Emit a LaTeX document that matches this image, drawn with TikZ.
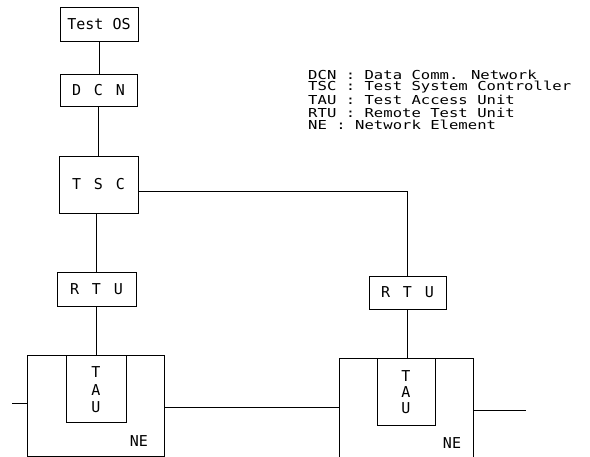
\documentclass[tikz,border=0pt]{standalone}
\usepackage{fontspec}
\newfontfamily\monofam{DejaVu Sans Mono}
\newcommand\lgap{\hspace{0.85em}}
\tikzset{
  box/.style={draw, line width=0.8pt, inner sep=0pt, font={\monofam\fontsize{15}{17}\selectfont}},
  lbl/.style={inner sep=0pt, font={\monofam\fontsize{15}{17}\selectfont}},
  legtext/.style={inner sep=0pt, anchor=west, xscale=1.2, yscale=0.95, font={\monofam\fontsize{13}{12}\selectfont}},
  conn/.style={line width=0.8pt}
}
\begin{document}
\begin{tikzpicture}[x=1pt,y=-1pt]
\clip (0,0) rectangle (590,457);
\useasboundingbox (0,0) rectangle (590,457);
% boxes
\node[box, minimum width=78pt, minimum height=34pt] (testos) at (99,24) {Test OS};
\node[box, minimum width=77pt, minimum height=32pt] (dcn) at (98.5,90) {D\lgap C\lgap N};
\node[box, minimum width=79pt, minimum height=57pt] (tsc) at (98.5,184.5) {\raisebox{-6pt}{T\lgap S\lgap C}};
\node[box, minimum width=79pt, minimum height=34pt] (rtua) at (96.5,289) {R\lgap T\lgap U};
\node[box, minimum width=137pt, minimum height=101pt] (nea) at (95.5,405.5) {};
\node[box, minimum width=60pt, minimum height=67pt] (taua) at (96,388.5) {};
\node[box, minimum width=77pt, minimum height=33pt] (rtub) at (407.5,292.5) {R\lgap T\lgap U};
\node[box, minimum width=134pt, minimum height=104pt] (neb) at (406,410) {};
\node[box, minimum width=58pt, minimum height=67pt] (taub) at (406,391.5) {};
% inner labels
\node[lbl, align=center, font={\monofam\fontsize{15}{17.5}\selectfont}] (tauatext) at (96,390) {T\\A\\U};
\node[lbl, align=center, font={\monofam\fontsize{15}{16}\selectfont}] (taubtext) at (406,392) {T\\A\\U};
\node[lbl] (neatext) at (139,441) {NE};
\node[lbl] (nebtext) at (452,443) {NE};
% connectors
\draw[conn] (testos.south) -- (testos.south |- dcn.north);
\draw[conn] (dcn.south) -- (dcn.south |- tsc.north);
\draw[conn] (rtua.north) -- (rtua.north |- tsc.south);
\draw[conn] (rtua.south) -- (rtua.south |- taua.north);
\draw[conn] ([yshift=-6.5pt]tsc.east) -| (rtub.north);
\draw[conn] (rtub.south) -- (rtub.south |- taub.north);
\coordinate (lstub) at (12,403);
\coordinate (rstub) at (526,410);
\draw[conn] (lstub) -- (lstub -| nea.west);
\draw[conn] ([yshift=-1.5pt]nea.east) -- ([yshift=-1.5pt]nea.east -| neb.west);
\draw[conn] (rstub -| neb.east) -- (rstub);
% legend
\node[legtext] (leg1) at (308,75) {DCN : Data Comm. Network};
\node[legtext] (leg2) at (308,87.5) {TSC : Test System Controller};
\node[legtext] (leg3) at (308,100) {TAU : Test Access Unit};
\node[legtext] (leg4) at (308,112.5) {RTU : Remote Test Unit};
\node[legtext] (leg5) at (308,124.5) {NE : Network Element};
\end{tikzpicture}
\end{document}
